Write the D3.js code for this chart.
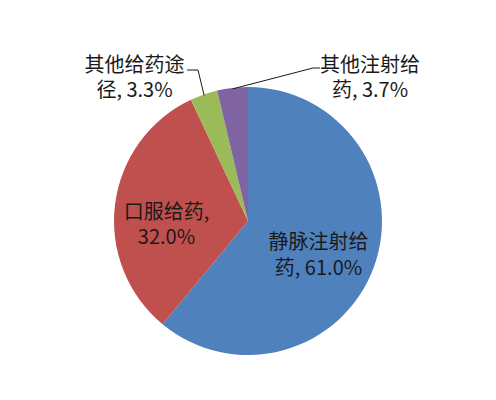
<!DOCTYPE html>
<html>
<head>
<meta charset="utf-8">
<script src="https://cdn.jsdelivr.net/npm/d3@7"></script>
<style>
  html, body { margin: 0; padding: 0; background: #fff; }
  svg { display: block; }
  text { font-family: "Noto Sans CJK SC", "Noto Sans", sans-serif; fill: #1a1a1a; }
</style>
</head>
<body>
<svg id="chart" width="496" height="400"></svg>
<script>
const routes = ['静脉注射给药', '口服给药', '其他给药途径', '其他注射给药']
const shares = [61.0, 32.0, 3.3, 3.7]
const colors = ['#4f81bd', '#c0504d', '#9bbb59', '#8064a2']

// label placement, px from pie centre (Excel "best fit" look)
const labelPos = [
    { x: 70.5, y: 28 },
    { x: -81.5, y: -2.5 },
    { x: -113.5, y: -149.5 },
    { x: 122, y: -149.5 }
]
// leader lines for the outside labels: elbow and end, px from centre
const leaders = [
    null,
    null,
    [{ x: -50, y: -151 }, { x: -61, y: -151 }],
    [{ x: 65, y: -153 }, { x: 72, y: -153 }]
]

const width = 496, height = 400
const cx = 248, cy = 221, radius = 134

const svg = d3.select('#chart')
const g = svg.append('g').attr('transform', `translate(${cx},${cy})`)

const data = routes.map((name, i) => ({ name, value: shares[i], i }))

const pie = d3.pie().value(d => d.value).sort(null)
const arc = d3.arc().innerRadius(0).outerRadius(radius)
const arcs = pie(data)

g.selectAll('path.slice')
    .data(arcs)
    .join('path')
    .attr('class', 'slice')
    .attr('d', arc)
    .attr('fill', d => colors[d.data.i])

// leader lines start on the rim at each slice's mid angle
const rim = (d, r) => {
    const a = (d.startAngle + d.endAngle) / 2
    return [r * Math.sin(a), -r * Math.cos(a)]
}

g.selectAll('path.leader')
    .data(arcs.filter(d => leaders[d.data.i]))
    .join('path')
    .attr('class', 'leader')
    .attr('fill', 'none')
    .attr('stroke', '#1a1a1a')
    .attr('stroke-width', 1)
    .attr('d', d => {
        const p = leaders[d.data.i]
        return d3.line()([rim(d, radius - 1), [p[0].x, p[0].y], [p[1].x, p[1].y]])
    })

// label text, wrapped after five characters like the original
const labelText = d => `${d.name}, ${d.value.toFixed(1)}%`

const labels = g.selectAll('text.label')
    .data(arcs)
    .join('text')
    .attr('class', 'label')
    .attr('text-anchor', 'middle')
    .attr('font-size', 20)
    .attr('x', d => labelPos[d.data.i].x)
    .attr('y', d => labelPos[d.data.i].y)

labels.each(function (d) {
    const s = labelText(d.data)
    const lines = [s.slice(0, 5), s.slice(5).trim()]
    d3.select(this).selectAll('tspan')
        .data(lines)
        .join('tspan')
        .attr('x', labelPos[d.data.i].x)
        .attr('dy', (l, k) => k ? 25.5 : 0)
        .text(l => l)
})
</script>
</body>
</html>
